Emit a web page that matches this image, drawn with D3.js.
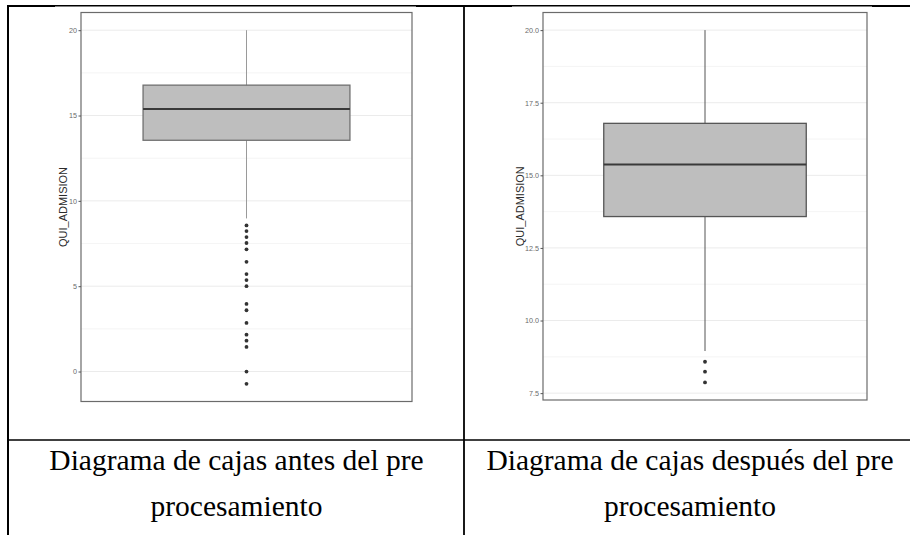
<!DOCTYPE html>
<html>
<head>
<meta charset="utf-8">
<script src="https://cdn.jsdelivr.net/npm/d3@7"></script>
<style>
  body { margin: 0; background: #fff; }
  svg { display: block; }
</style>
</head>
<body>
<div id="chart"></div>
<script>
// box stats (antes / después)
const panelNames = ["antes", "despues"];
const q1 = [13.55, 13.58];
const medians = [15.38, 15.37];
const q3 = [16.78, 16.79];
const whiskLow = [8.97, 8.95];
const whiskHigh = [20, 20];
const outliersBefore = [8.56, 8.23, 7.88, 7.53, 7.16, 6.43, 5.71, 5.36, 5.0, 3.96, 3.59, 2.85, 2.16, 1.81, 1.44, 0, -0.72];
const outliersAfter = [8.58, 8.24, 7.87];
const ticksBefore = [0, 5, 10, 15, 20];
const ticksAfter = [7.5, 10, 12.5, 15, 17.5, 20];
const minorBefore = [2.5, 7.5, 12.5, 17.5];
const minorAfter = [8.75, 11.25, 13.75, 16.25, 18.75];
const yTitle = "QUI_ADMISION";
const captions = [
  ["Diagrama de cajas antes del pre", "procesamiento"],
  ["Diagrama de cajas después del pre", "procesamiento"]
];

const W = 910, H = 535;
const svg = d3.select("#chart").append("svg")
  .attr("width", W).attr("height", H);

// panel boxes (pixel frame of each ggplot image)
const frames = [
  {x0: 81, x1: 412, y0: 12.5, y1: 401.5, outliers: outliersBefore, ticks: ticksBefore, minor: minorBefore, fmt: d3.format("d"), titleX: 63, whisk: "#9a9a9a", boxStroke: "#707070"},
  {x0: 543, x1: 867, y0: 12.5, y1: 400, outliers: outliersAfter, ticks: ticksAfter, minor: minorAfter, fmt: d3.format(".1f"), titleX: 520, whisk: "#555", boxStroke: "#555"}
];

frames.forEach(function(f, i) {
  const lo = d3.min([whiskLow[i], d3.min(f.outliers)]);
  const hi = d3.max([whiskHigh[i], d3.max(f.outliers)]);
  const pad = (hi - lo) * 0.05;
  const y = d3.scaleLinear().domain([lo - pad, hi + pad]).range([f.y1, f.y0]);
  const x = d3.scaleLinear().domain([0.4, 1.6]).range([f.x0, f.x1]);
  const g = svg.append("g");

  // grid
  g.selectAll(".minor").data(f.minor).join("line")
    .attr("x1", f.x0).attr("x2", f.x1)
    .attr("y1", d => y(d)).attr("y2", d => y(d))
    .attr("stroke", "#f1f1f1").attr("stroke-width", 0.8);
  g.selectAll(".major").data(f.ticks).join("line")
    .attr("x1", f.x0).attr("x2", f.x1)
    .attr("y1", d => y(d)).attr("y2", d => y(d))
    .attr("stroke", "#ebebeb").attr("stroke-width", 1);

  // whisker
  g.append("line")
    .attr("x1", x(1)).attr("x2", x(1))
    .attr("y1", y(whiskHigh[i])).attr("y2", y(whiskLow[i]))
    .attr("stroke", f.whisk).attr("stroke-width", 1);

  // box
  g.append("rect")
    .attr("x", x(1 - 0.375)).attr("width", x(1.375) - x(0.625))
    .attr("y", y(q3[i])).attr("height", y(q1[i]) - y(q3[i]))
    .attr("fill", "#bebebe").attr("stroke", f.boxStroke).attr("stroke-width", 1.3);
  g.append("line")
    .attr("x1", x(0.625)).attr("x2", x(1.375))
    .attr("y1", y(medians[i])).attr("y2", y(medians[i]))
    .attr("stroke", "#3a3a3a").attr("stroke-width", 2);

  // outliers
  g.selectAll(".pt").data(f.outliers).join("circle")
    .attr("cx", x(1)).attr("cy", d => y(d)).attr("r", 1.9)
    .attr("fill", "#333");

  // panel border
  g.append("rect")
    .attr("x", f.x0).attr("y", f.y0)
    .attr("width", f.x1 - f.x0).attr("height", f.y1 - f.y0)
    .attr("fill", "none").attr("stroke", "#6b6b6b").attr("stroke-width", 1.2);

  // y axis
  const ax = g.append("g")
    .attr("transform", `translate(${f.x0},0)`)
    .call(d3.axisLeft(y).tickValues(f.ticks).tickFormat(f.fmt).tickSize(2.5).tickPadding(1.5));
  ax.select(".domain").remove();
  ax.selectAll(".tick line").attr("stroke", "#555");
  ax.selectAll(".tick text")
    .attr("fill", "#6a6a6a")
    .style("font-family", "Liberation Sans, Arial, sans-serif")
    .style("font-size", "7.2px");

  g.append("text")
    .attr("transform", `translate(${f.titleX},${(f.y0 + f.y1) / 2}) rotate(-90)`)
    .attr("text-anchor", "middle")
    .attr("dy", "0.35em")
    .attr("fill", "#2b2b2b")
    .style("font-family", "Liberation Sans, Arial, sans-serif")
    .style("font-size", "11px")
    .text(yTitle);
});

// table borders
const border = svg.append("g").attr("stroke", "#000");
border.append("line").attr("x1", 7).attr("x2", W).attr("y1", 6).attr("y2", 6).attr("stroke-width", 2);
border.append("line").attr("x1", 8).attr("x2", 8).attr("y1", 5).attr("y2", H).attr("stroke-width", 2);
border.append("line").attr("x1", 464).attr("x2", 464).attr("y1", 5).attr("y2", H).attr("stroke-width", 1.8);
border.append("line").attr("x1", 8).attr("x2", W).attr("y1", 440).attr("y2", 440).attr("stroke-width", 1.6);
// pasted images cover the lower half of the top rule
[[55, 416], [512, 872]].forEach(function(r) {
  svg.append("rect").attr("x", r[0]).attr("y", 6.5).attr("width", r[1] - r[0]).attr("height", 3).attr("fill", "#fff");
});

// captions
const colCenters = [236.5, 690];
captions.forEach(function(lines, i) {
  svg.append("g").selectAll("text").data(lines).join("text")
    .attr("x", colCenters[i])
    .attr("y", (d, k) => 470 + k * 46)
    .attr("text-anchor", "middle")
    .attr("fill", "#000")
    .style("font-family", "Liberation Serif, 'Times New Roman', serif")
    .style("font-size", "29.5px")
    .text(d => d);
});
</script>
</body>
</html>
